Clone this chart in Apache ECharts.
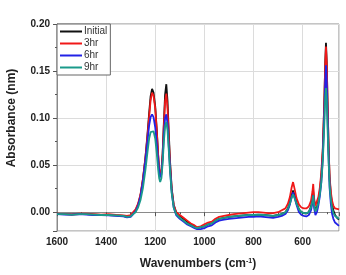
<!DOCTYPE html>
<html>
<head>
<meta charset="utf-8">
<script src="https://cdn.jsdelivr.net/npm/echarts@6/dist/echarts.min.js"></script>
<style>
  html, body { margin: 0; padding: 0; background: #fff; }
  #chart { width: 346px; height: 275px; }
</style>
</head>
<body>
<div id="chart"></div>
<script>
// wavenumbers (cm-1)
var wavenumbers = [1600,1570,1540,1510,1480,1450,1420,1390,1360,1330,1315,1300,1290,1280,1270,1260,1250,1240,1232,1225,
  1219,1213,1207,1200,1194,1188,1184,1180,1175,1170,1165,1160,1155,1150,1145,1140,1133,1125,1115,1100,
  1085,1070,1055,1040,1030,1015,1000,985,970,955,940,920,900,880,860,840,820,800,780,760,
  740,720,700,685,670,660,652,645,639,633,625,615,605,595,585,575,566,560,557,553,
  548,542,536,530,524,518,512,508,505,502,498,494,490,485,480,475,468,460,452];

var seriesNames = ['Initial', '3hr', '6hr', '9hr'];

var initial = [-0.002,-0.002,-0.0025,-0.002,-0.002,-0.0025,-0.003,-0.003,-0.0035,-0.004,
  -0.005,-0.004,-0.001,0.002,0.008,0.018,0.035,0.058,0.082,0.105,
  0.123,0.131,0.127,0.112,0.088,0.060,0.045,0.038,0.042,0.062,
  0.095,0.125,0.136,0.118,0.085,0.055,0.025,0.008,0.000,-0.004,
  -0.007,-0.010,-0.013,-0.015,-0.017,-0.016,-0.015,-0.013,-0.012,-0.009,
  -0.007,-0.006,-0.005,-0.0045,-0.004,-0.0035,-0.003,-0.003,-0.0025,-0.003,
  -0.0035,-0.004,-0.003,-0.002,0.000,0.004,0.010,0.018,0.023,0.018,
  0.010,0.003,0.000,-0.001,-0.0015,0.000,0.006,0.015,0.022,0.008,
  0.002,0.005,0.012,0.022,0.038,0.065,0.115,0.160,0.180,0.160,
  0.110,0.065,0.035,0.018,0.008,0.002,-0.003,-0.006,-0.008];

var hr3 = [-0.0015,-0.002,-0.002,-0.0015,-0.0015,-0.002,-0.0025,-0.002,-0.003,-0.0035,
  -0.004,-0.003,0.000,0.003,0.009,0.019,0.036,0.058,0.080,0.101,
  0.119,0.127,0.124,0.110,0.087,0.060,0.046,0.040,0.044,0.062,
  0.092,0.118,0.126,0.110,0.080,0.052,0.024,0.008,0.000,-0.003,
  -0.006,-0.009,-0.012,-0.014,-0.016,-0.015,-0.013,-0.011,-0.010,-0.007,
  -0.005,-0.004,-0.003,-0.002,-0.0015,-0.001,-0.0005,0.000,0.000,-0.0005,
  -0.001,-0.001,0.000,0.002,0.004,0.009,0.016,0.026,0.032,0.025,
  0.015,0.008,0.005,0.004,0.004,0.006,0.012,0.022,0.030,0.014,
  0.007,0.009,0.016,0.026,0.042,0.068,0.115,0.158,0.176,0.158,
  0.110,0.066,0.037,0.021,0.012,0.007,0.004,0.003,0.003];

var hr6 = [-0.002,-0.0025,-0.0025,-0.002,-0.0025,-0.003,-0.003,-0.0035,-0.004,-0.0045,
  -0.0055,-0.005,-0.002,0.001,0.007,0.017,0.033,0.055,0.075,0.092,
  0.101,0.104,0.101,0.090,0.073,0.054,0.043,0.037,0.040,0.056,
  0.082,0.100,0.104,0.094,0.070,0.047,0.021,0.005,-0.003,-0.007,
  -0.010,-0.013,-0.015,-0.017,-0.018,-0.018,-0.017,-0.015,-0.014,-0.011,
  -0.009,-0.008,-0.007,-0.0065,-0.006,-0.0055,-0.005,-0.005,-0.0045,-0.005,
  -0.0055,-0.006,-0.005,-0.004,-0.002,0.002,0.008,0.016,0.021,0.016,
  0.008,0.000,-0.003,-0.004,-0.0045,-0.003,0.002,0.010,0.018,0.004,
  -0.003,0.000,0.007,0.017,0.032,0.058,0.102,0.140,0.156,0.140,
  0.095,0.055,0.025,0.008,-0.002,-0.007,-0.011,-0.013,-0.0145];

var hr9 = [-0.002,-0.002,-0.0025,-0.002,-0.002,-0.0025,-0.003,-0.003,-0.0035,-0.004,
  -0.005,-0.0045,-0.002,0.000,0.005,0.013,0.026,0.045,0.063,0.078,
  0.085,0.087,0.086,0.078,0.063,0.045,0.036,0.032,0.036,0.052,
  0.075,0.091,0.096,0.087,0.066,0.044,0.020,0.005,-0.002,-0.006,
  -0.009,-0.012,-0.014,-0.016,-0.017,-0.016,-0.015,-0.013,-0.012,-0.009,
  -0.007,-0.006,-0.005,-0.0045,-0.004,-0.0035,-0.003,-0.003,-0.0025,-0.003,
  -0.0035,-0.004,-0.003,-0.002,0.000,0.004,0.009,0.015,0.019,0.015,
  0.009,0.003,0.000,-0.001,-0.001,0.000,0.005,0.012,0.018,0.007,
  0.001,0.004,0.010,0.019,0.032,0.054,0.092,0.122,0.132,0.120,
  0.085,0.052,0.027,0.013,0.004,-0.001,-0.004,-0.006,-0.007];

var colors = ['#111111', '#f01818', '#2222e6', '#1a9a8a'];
var values = [initial, hr3, hr6, hr9];

var chart = echarts.init(document.getElementById('chart'));

var labelFont = { color: '#222', fontSize: 10, fontWeight: 'bold', fontFamily: 'Liberation Sans, Arial' };

var option = {
  animation: false,
  grid: {
    left: 57, right: 7, top: 24, bottom: 43,
    show: true, borderColor: '#8a8a8a', borderWidth: 1
  },
  legend: {
    data: seriesNames,
    left: 57, top: 24,
    orient: 'vertical',
    icon: 'rect',
    itemWidth: 22, itemHeight: 2,
    itemGap: 1,
    padding: [2, 3, 2, 3],
    borderColor: '#666', borderWidth: 1,
    backgroundColor: '#fff',
    textStyle: { color: '#333', fontSize: 10, lineHeight: 11, padding: [0, 0, 0, -3], fontFamily: 'Liberation Sans, Arial' }
  },
  xAxis: {
    type: 'value',
    inverse: true,
    min: 452, max: 1600,
    splitNumber: 6,
    axisLine: { show: true, lineStyle: { color: '#8a8a8a' } },
    axisTick: { show: true, length: 4, lineStyle: { color: '#555' } },
    minorTick: { show: true, splitNumber: 2, length: 2, lineStyle: { color: '#555' } },
    splitLine: { show: true, lineStyle: { color: '#dcdcdc' } },
    axisLabel: Object.assign({
      margin: 6, showMinLabel: false,
      formatter: function (v) { return String(v); }
    }, labelFont),
    name: '{t|Wavenumbers (cm}{s|-1}{t|)}',
    nameLocation: 'middle',
    nameGap: 27,
    nameTextStyle: {
      rich: {
        t: { fontSize: 12, fontWeight: 'bold', color: '#222', fontFamily: 'Liberation Sans, Arial' },
        s: { fontSize: 7, fontWeight: 'bold', color: '#222', verticalAlign: 'top', fontFamily: 'Liberation Sans, Arial' }
      }
    }
  },
  yAxis: {
    type: 'value',
    min: -0.02, max: 0.20,
    splitNumber: 5,
    axisLine: { show: true, lineStyle: { color: '#8a8a8a' } },
    axisTick: { show: true, length: 4, lineStyle: { color: '#555' } },
    minorTick: { show: true, splitNumber: 2, length: 2, lineStyle: { color: '#555' } },
    splitLine: { show: true, lineStyle: { color: '#dcdcdc' } },
    axisLabel: Object.assign({
      margin: 7, showMinLabel: false,
      formatter: function (v) { return v.toFixed(2); }
    }, labelFont)
  },
  graphic: [{
    type: 'text',
    x: 12, y: 118,
    rotation: Math.PI / 2,
    style: {
      text: 'Absorbance (nm)',
      fontSize: 12, fontWeight: 'bold', fill: '#222',
      fontFamily: 'Liberation Sans, Arial',
      align: 'center', verticalAlign: 'middle'
    }
  }],
  series: seriesNames.map(function (name, k) {
    return {
      name: name,
      type: 'line',
      showSymbol: false,
      symbol: 'none',
      color: colors[k],
      lineStyle: { width: 1.8, color: colors[k] },
      data: wavenumbers.map(function (x, i) { return [x, values[k][i]]; })
    };
  })
};

chart.setOption(option);
</script>
</body>
</html>
